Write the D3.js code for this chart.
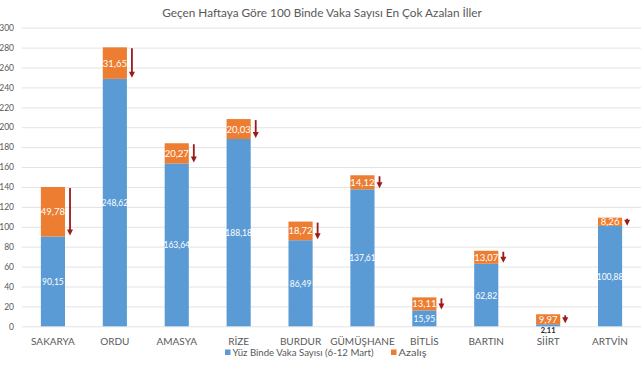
<!DOCTYPE html>
<html><head><meta charset="utf-8">
<script src="https://cdn.jsdelivr.net/npm/d3@7"></script>
<style>body{margin:0;background:#fff}svg{display:block}</style>
</head><body>
<svg id="c" width="644" height="370"></svg>
<script>
const categories = ["SAKARYA","ORDU","AMASYA","RİZE","BURDUR","GÜMÜŞHANE","BİTLİS","BARTIN","SİİRT","ARTVİN"];
const vaka = [90.15,248.62,163.64,188.18,86.49,137.61,15.95,62.82,2.11,100.88];
const azalis = [49.78,31.65,20.27,20.03,18.72,14.12,13.11,13.07,9.97,8.26];
const yTicks = [0,20,40,60,80,100,120,140,160,180,200,220,240,260,280,300];
const seriesNames = ["Yüz Binde Vaka Sayısı (6-12 Mart)","Azalış"];
const title = "Geçen Haftaya Göre 100 Binde Vaka Sayısı En Çok Azalan İller";

const FONT = "Lato, 'Open Sans', sans-serif";
const BLUE = "#5B9BD5", ORANGE = "#ED7D31", ARROW = "#9B1B1B", GRID = "#E3E3E3", TXT = "#595959";
const svg = d3.select("#c");
const fmt = v => v.toFixed(2).replace(".", ",");

const x = d3.scaleBand().domain(categories).range([22, 641]).paddingInner(0.61).paddingOuter(0.305);
const y = d3.scaleLinear().domain([0, 300]).range([326.3, 27.7]);

svg.append("text").attr("x", 322).attr("y", 17).attr("text-anchor", "middle")
  .attr("font-family", FONT).attr("font-size", 11.8).attr("fill", TXT).text(title);

const yAxis = svg.append("g").attr("transform", "translate(22,0)")
  .call(d3.axisLeft(y).tickValues(yTicks).tickSize(-619).tickPadding(8));
yAxis.select(".domain").remove();
yAxis.selectAll("line").attr("stroke", GRID);
yAxis.selectAll("text").attr("font-family", FONT).attr("font-size", 8.5).attr("fill", TXT);

const xAxis = svg.append("g").attr("transform", "translate(0,326.3)")
  .call(d3.axisBottom(x).tickSize(0).tickPadding(11.5));
xAxis.select(".domain").remove();
xAxis.selectAll("text").attr("font-family", FONT).attr("font-size", 10).attr("fill", TXT);

const data = categories.map((c, i) => ({c, v: vaka[i], a: azalis[i]}));
const g = svg.append("g");
g.selectAll("rect.b").data(data).join("rect").attr("class","b")
  .attr("x", d => x(d.c)).attr("width", x.bandwidth())
  .attr("y", d => y(d.v)).attr("height", d => y(0) - y(d.v)).attr("fill", BLUE);
g.selectAll("rect.o").data(data).join("rect").attr("class","o")
  .attr("x", d => x(d.c)).attr("width", x.bandwidth())
  .attr("y", d => y(d.v + d.a)).attr("height", d => y(d.v) - y(d.v + d.a)).attr("fill", ORANGE);

// labels
g.selectAll("text.bl").data(data).join("text").attr("class","bl")
  .attr("x", d => x(d.c) + x.bandwidth()/2)
  .attr("y", d => d.v < 5 ? y(0) + 6.5 : y(d.v/2) + 3.5)
  .attr("text-anchor","middle").attr("font-family", FONT)
  .attr("font-size", d => d.v < 5 ? 7.5 : 8.5)
  .attr("font-weight", d => d.v < 5 ? "bold" : "normal")
  .attr("fill", d => d.v < 5 ? "#222" : "#fff").text(d => fmt(d.v));
g.selectAll("text.ol").data(data).join("text").attr("class","ol")
  .attr("x", d => x(d.c) + x.bandwidth()/2)
  .attr("y", d => y(d.v + d.a/2) + 3.5)
  .attr("text-anchor","middle").attr("font-family", FONT).attr("font-size", 9.5)
  .attr("fill", "#fff").text(d => fmt(d.a));

// arrows
const ax = d => x(d.c) + x.bandwidth() + 5;
const aTop = d => y(d.v + d.a) + 1;
const aBot = d => Math.max(y(d.v) - 1, y(d.v + d.a) + 8);
g.selectAll("line.ar").data(data).join("line").attr("class","ar")
  .attr("x1", ax).attr("x2", ax)
  .attr("y1", aTop).attr("y2", d => aBot(d) - 4)
  .attr("stroke", ARROW).attr("stroke-width", 1.8);
g.selectAll("path.ah").data(data).join("path").attr("class","ah")
  .attr("d", d => { const cx = ax(d), b = aBot(d); return `M${cx-3},${b-6} L${cx+3},${b-6} L${cx},${b} Z`; })
  .attr("fill", ARROW);

// legend
const leg = svg.append("g").attr("font-family", FONT).attr("font-size", 9.5).attr("fill", TXT);
const legItems = [{n: seriesNames[0], c: BLUE, x: 225, w: 141}, {n: seriesNames[1], c: ORANGE, x: 391, w: 28}];
legItems.forEach(it => {
  leg.append("rect").attr("x", it.x).attr("y", 349.5).attr("width", 5.5).attr("height", 5.5).attr("fill", it.c);
  leg.append("text").attr("x", it.x + 7.5).attr("y", 356).attr("textLength", it.w)
    .attr("lengthAdjust", "spacingAndGlyphs").text(it.n);
});
</script>
</body></html>
